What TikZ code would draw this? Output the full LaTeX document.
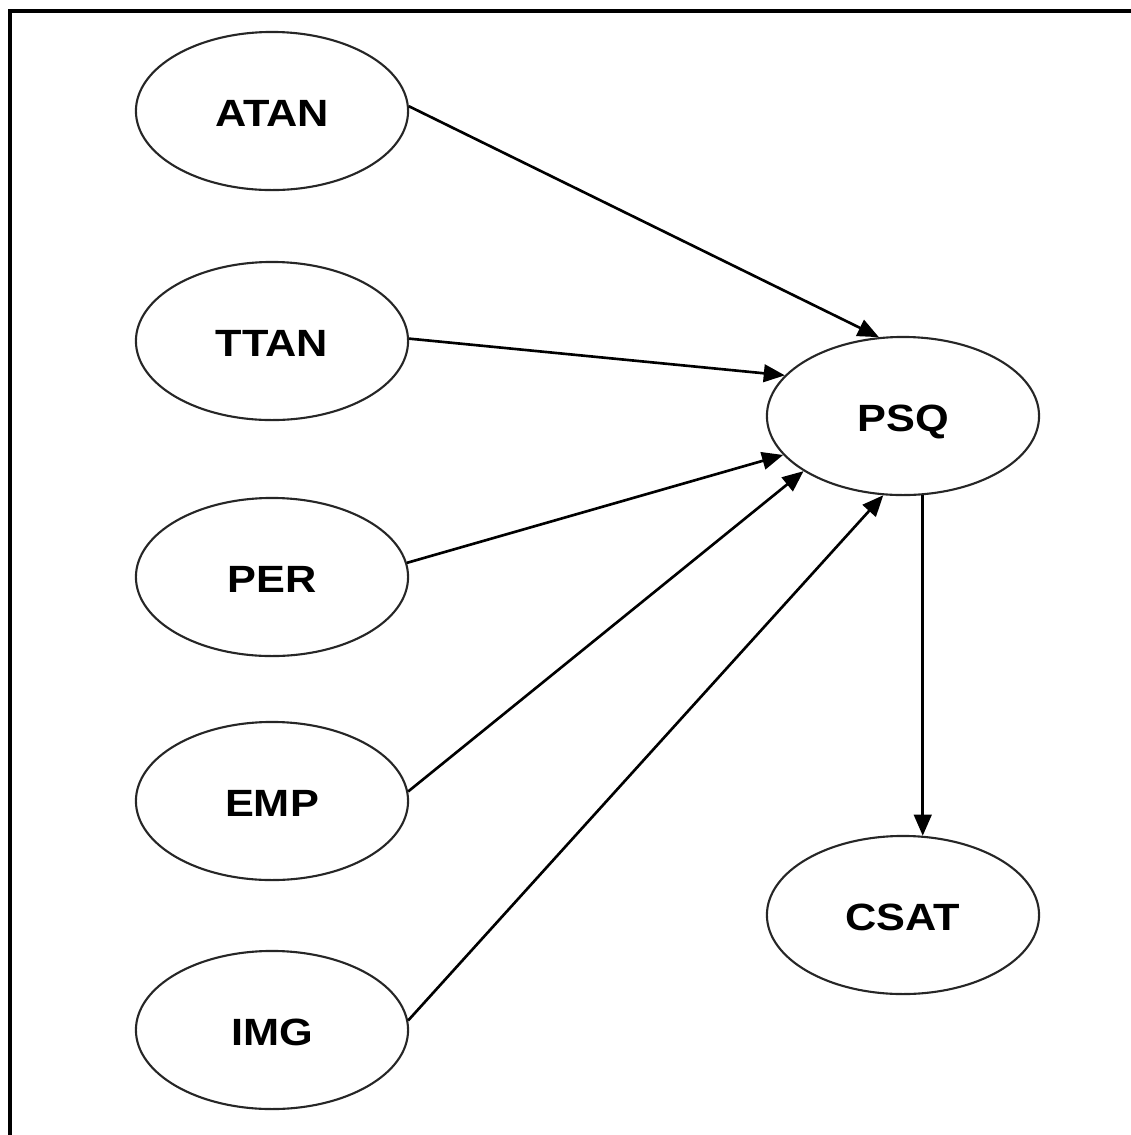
\documentclass[tikz,border=0pt]{standalone}
\usepackage{fontspec}
\setmainfont[FakeStretch=1.14]{Liberation Sans}
\usetikzlibrary{shapes.geometric,arrows.meta}
\begin{document}
\begin{tikzpicture}[x=0.01cm,y=-0.01cm,
  construct/.style={ellipse,draw=black!85,line width=0.6pt,minimum width=2.72cm,
    minimum height=1.58cm,inner sep=0pt,text height=0.31cm,text depth=0pt,
    font=\fontsize{10.8}{12}\selectfont\bfseries},
  path/.style={line width=0.75pt,-{Triangle[length=6pt,width=5pt]}}]
\useasboundingbox (0,0) rectangle (1131,1135);
% outer frame
\draw[line width=1.2pt] (10,11) rectangle (1150,1150);
% constructs
\node[construct] (atan) at (272,111) {ATAN};
\node[construct] (ttan) at (272,341) {TTAN};
\node[construct] (per)  at (272,577) {PER};
\node[construct] (emp)  at (272,801) {EMP};
\node[construct] (img)  at (272,1030) {IMG};
\node[construct] (psq)  at (903,416) {PSQ};
\node[construct] (csat) at (903,915) {CSAT};
% structural paths
\draw[path] (atan.2) -- (psq.107);
\draw[path] (ttan.1) -- (psq.161);
\draw[path] (per.6) -- (psq.198);
\draw[path] (emp.4) -- (psq.209);
\draw[path] (img.4) -- (psq.256);
\draw[path] (psq.284) -- (csat.76);
\end{tikzpicture}
\end{document}
